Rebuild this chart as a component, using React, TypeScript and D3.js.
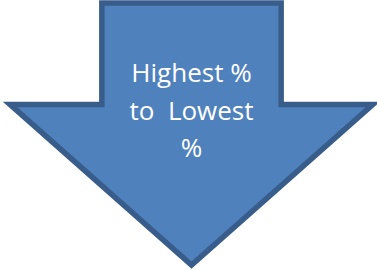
import { useEffect, useRef } from 'react';
import * as d3 from 'd3';

// label lines inside the arrow
const labelLines = ['Highest %', 'to  Lowest', '%'];

// arrow outline in unit space: x across, y down
const outlineX = [0.253, 0.747, 0.747, 1.0, 0.5, 0.0, 0.253];
const outlineY = [0.0, 0.0, 0.387, 0.387, 1.0, 0.387, 0.387];

const width = 377;
const height = 270;

export default function App() {
  const ref = useRef<SVGSVGElement>(null);

  useEffect(() => {
    const svg = d3.select(ref.current);
    svg.selectAll('*').remove();

    const xScale = d3.scaleLinear().domain([0, 1]).range([10, 373]);
    const yScale = d3.scaleLinear().domain([0, 1]).range([3, 265]);

    const points: [number, number][] = outlineX.map((x, i) => [xScale(x), yScale(outlineY[i])]);
    const line = d3.line().curve(d3.curveLinearClosed);

    svg.append('path')
      .attr('d', line(points))
      .attr('fill', '#4F81BD')
      .attr('stroke', '#385D8A')
      .attr('stroke-width', 5.5)
      .attr('stroke-linejoin', 'miter')
      .attr('stroke-miterlimit', 10);

    const lineY = d3.scalePoint<string>().domain(labelLines.map((d, i) => String(i))).range([82, 157]);

    svg.selectAll('text.label')
      .data(labelLines)
      .join('text')
      .attr('class', 'label')
      .attr('x', xScale(0.5))
      .attr('y', (d, i) => lineY(String(i)) as number)
      .attr('text-anchor', 'middle')
      .attr('fill', '#ffffff')
      .style('font-family', 'Open Sans, sans-serif')
      .style('font-size', '26px')
      .style('white-space', 'pre')
      .text((d) => d);
  }, []);

  return (
    <svg
      ref={ref}
      width={width}
      height={height}
      style={{ position: 'absolute', left: 0, top: 0 }}
    />
  );
}
